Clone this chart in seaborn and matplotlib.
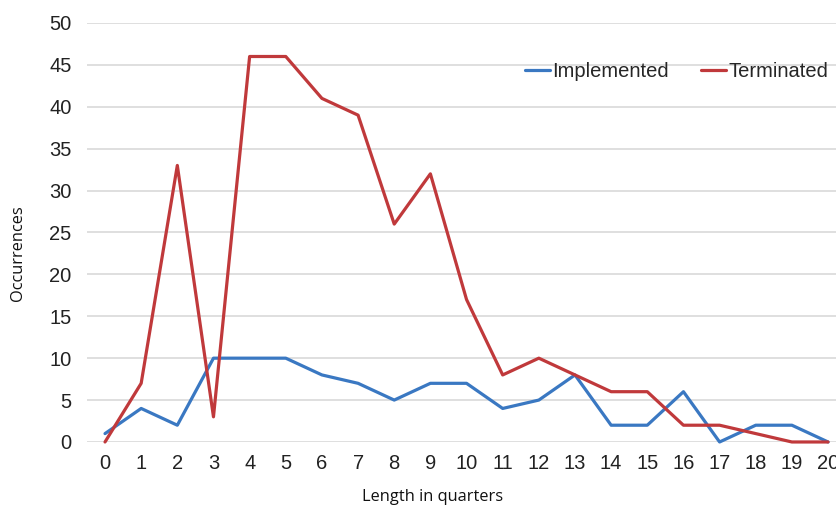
import numpy as np
import pandas as pd
import matplotlib.pyplot as plt
import seaborn as sns

# data
quarters = list(range(21))
implemented = [1, 4, 2, 10, 10, 10, 8, 7, 5, 7, 7, 4, 5, 8, 2, 2, 6, 0, 2, 2, 0]
terminated = [0, 7, 33, 3, 46, 46, 41, 39, 26, 32, 17, 8, 10, 8, 6, 6, 2, 2, 1, 0, 0]
series_names = ['Implemented', 'Terminated']
colors = ['#3a78c2', '#c0393b']

df = pd.DataFrame({
    'quarter': quarters * 2,
    'count': implemented + terminated,
    'status': [series_names[0]] * len(quarters) + [series_names[1]] * len(quarters),
})

sns.set_style('white')
plt.rcParams['font.family'] = ['Liberation Sans', 'DejaVu Sans']

fig = plt.figure(figsize=(8.36, 5.05), dpi=100)
ax = fig.add_axes([0.104, 0.1248, 0.896, 0.8297])

sns.lineplot(data=df, x='quarter', y='count', hue='status', palette=colors,
             linewidth=2.3, ax=ax, clip_on=False, legend=False)

ax.set_xlim(-0.5, 20.22)
ax.set_ylim(0, 50)
ax.set_xticks(quarters)
ax.set_yticks(range(0, 51, 5))
ax.tick_params(axis='both', length=0, labelsize=14.5, labelcolor='#222222')
ax.tick_params(axis='x', pad=9)
ax.tick_params(axis='y', pad=11)
ax.grid(axis='y', color='#d9d9d9', linewidth=1.2)
ax.set_axisbelow(True)
for s in ax.spines.values():
    s.set_visible(False)

ax.set_xlabel('Length in quarters', fontsize=11.8, family=['Open Sans', 'DejaVu Sans'], color='#111111')
ax.set_ylabel('Occurrences', fontsize=11.8, family=['Open Sans', 'DejaVu Sans'], color='#111111')
ax.xaxis.set_label_coords(0.462, -0.113)
ax.yaxis.set_label_coords(-0.082, 0.451)

handles = [plt.Line2D([], [], color=c, linewidth=2.3) for c in colors]
ax.legend(handles, series_names, loc='upper right', bbox_to_anchor=(1.0, 0.925), ncol=2, frameon=False,
          fontsize=14.5, handlelength=1.25, handletextpad=0.1, columnspacing=1.6, borderaxespad=0)

fig.savefig('out.png', dpi=100)
